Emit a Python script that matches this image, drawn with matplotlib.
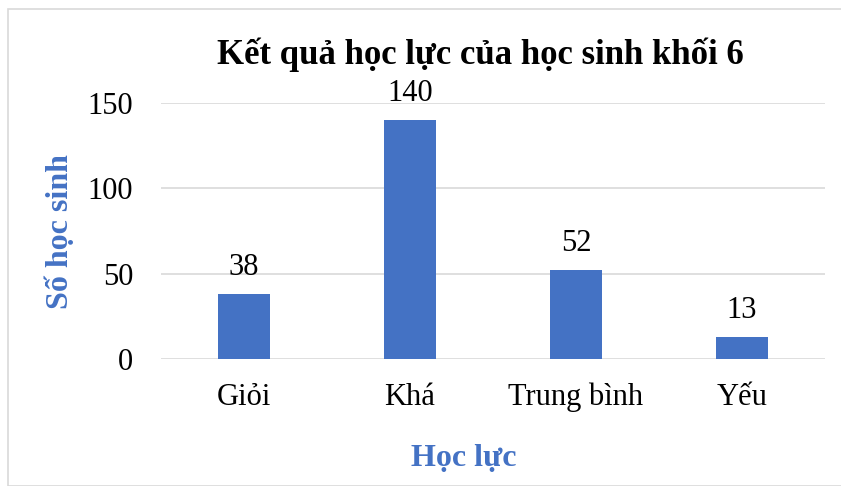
import matplotlib.pyplot as plt
from matplotlib.patches import Rectangle

categories = ["Giỏi", "Khá", "Trung bình", "Yếu"]
values = [38, 140, 52, 13]
yticks = [0, 50, 100, 150]

bar_color = "#4472C4"
W, H = 841, 486

plt.rcParams['font.family'] = ['Liberation Serif', 'DejaVu Serif']

fig = plt.figure(figsize=(W / 100, H / 100), dpi=100)

# frame of the chart area
fig.patches.append(Rectangle((8 / W, 0), 1.0, 1 - 9 / H, transform=fig.transFigure,
                             fill=False, edgecolor="#d9d9d9", linewidth=1.2))

left, right, bottom, top = 161, 825, 359, 103
ax = fig.add_axes([left / W, 1 - bottom / H, (right - left) / W, (bottom - top) / H])

x = range(len(categories))
ax.bar(x, values, width=0.313, color=bar_color, zorder=3)
for i, v in zip(x, values):
    ax.annotate(str(v), (i, v), xytext=(0, 19), textcoords="offset points",
                ha="center", va="center", fontsize=22, color="black")

ax.set_xlim(-0.5, len(categories) - 0.5)
ax.set_ylim(0, 150)
ax.set_yticks(yticks)
ax.set_xticks(list(x))
ax.set_xticklabels(categories)
ax.grid(axis="y", color="#d9d9d9", linewidth=1.2, zorder=0)
for s in ax.spines.values():
    s.set_visible(False)
ax.tick_params(axis="both", length=0, labelsize=22)
ax.tick_params(axis="y", pad=20)
ax.tick_params(axis="x", pad=17)

fig.text(480 / W, 1 - 55 / H, "Kết quả học lực của học sinh khối 6", ha="center", va="center",
         fontsize=25, fontweight="bold")
fig.text(464 / W, 1 - 458 / H, "Học lực", ha="center", va="center",
         fontsize=23, fontweight="bold", color=bar_color)
fig.text(60 / W, 1 - 232 / H, "Số học sinh", ha="center", va="center", rotation=90,
         fontsize=23, fontweight="bold", color=bar_color)

fig.savefig("out.png", dpi=100)
